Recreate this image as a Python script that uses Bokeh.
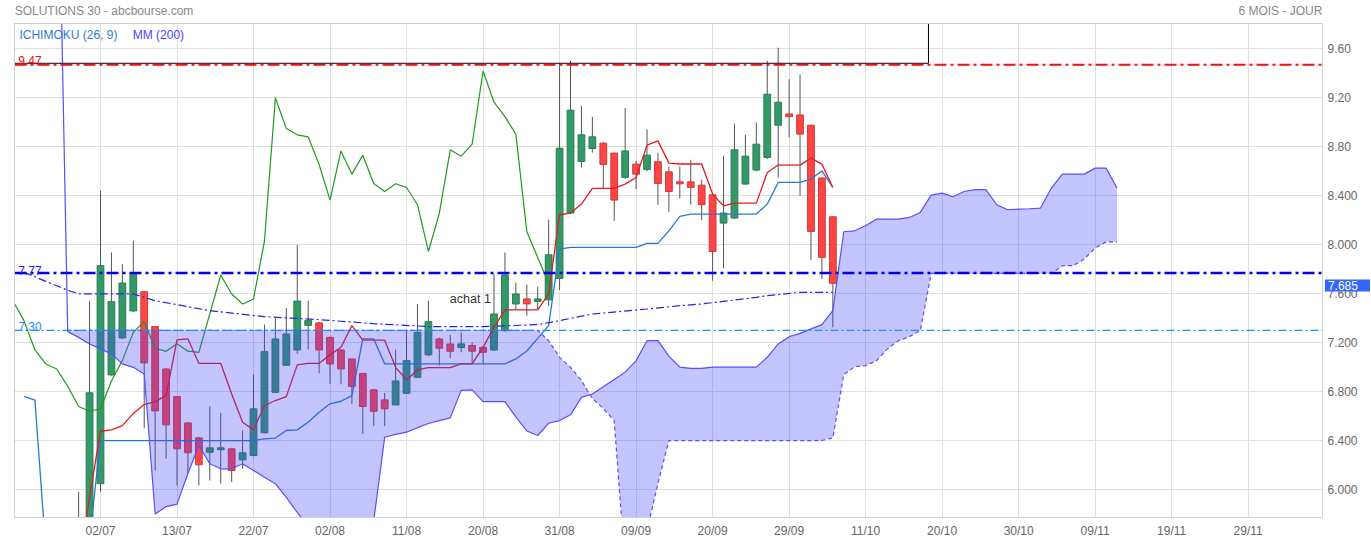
from bokeh.plotting import figure
from bokeh.models import Range1d, FixedTicker, Label, Span, LinearAxis
from bokeh.embed import file_html
from bokeh.resources import INLINE

# ---------------- data (x = trading-day index, 0 = 02/07) ----------------
candle_x = list(range(-2, 68))
opens = [5.72, 5.70, 6.047, 6.936, 7.238, 7.459, 7.616, 7.331, 6.985, 6.759,
         6.544, 6.422, 6.304, 6.325, 6.332, 6.242, 6.278, 6.463, 6.794, 7.015,
         7.14, 7.341, 7.361, 7.243, 7.14, 7.067, 6.949, 6.814, 6.732, 6.691,
         6.786, 6.917, 7.10, 7.23, 7.189, 7.16, 7.176, 7.162, 7.14, 7.298,
         7.516, 7.557, 7.537, 7.55, 7.725, 8.259, 8.68, 8.786, 8.83, 8.749,
         8.55, 8.659, 8.615, 8.678, 8.596, 8.514, 8.514, 8.487, 8.408, 8.177,
         8.218, 8.496, 8.61, 8.713, 8.977, 9.069, 9.061, 8.977, 8.545, 8.229]
highs = [5.98, 7.54, 8.44, 7.937, 7.842, 8.033, 7.62, 7.33, 6.99, 6.76,
         6.55, 6.43, 6.678, 6.626, 6.34, 6.482, 6.939, 7.347, 7.40, 7.483,
         7.998, 7.543, 7.37, 7.25, 7.145, 7.07, 6.95, 6.82, 6.789, 7.143,
         7.298, 7.516, 7.543, 7.24, 7.263, 7.284, 7.20, 7.17, 7.761, 7.937,
         7.692, 7.673, 7.657, 8.204, 9.483, 9.502, 9.135, 9.045, 8.84, 8.75,
         9.116, 8.686, 8.944, 8.753, 8.639, 8.639, 8.694, 8.531, 8.41, 8.727,
         8.99, 8.898, 9.00, 9.502, 9.61, 9.353, 9.393, 8.98, 8.55, 8.23]
lows = [5.09, 5.60, 5.98, 6.93, 7.23, 7.45, 6.50, 6.155, 6.251, 6.033,
        6.128, 6.033, 6.073, 6.047, 6.06, 6.169, 6.27, 6.46, 6.79, 7.01,
        7.11, 7.145, 6.949, 6.863, 6.86, 6.70, 6.454, 6.517, 6.517, 6.69,
        6.78, 6.91, 7.09, 7.012, 7.072, 7.121, 7.034, 7.03, 7.13, 7.29,
        7.467, 7.42, 7.469, 7.50, 7.63, 8.25, 8.631, 8.753, 8.46, 8.196,
        8.54, 8.455, 8.60, 8.327, 8.269, 8.378, 8.327, 8.202, 7.706, 7.807,
        8.21, 8.49, 8.60, 8.70, 8.549, 8.876, 8.40, 7.875, 7.72, 7.325]
closes = [5.68, 6.79, 7.829, 7.535, 7.687, 7.763, 7.034, 6.642, 6.528, 6.332,
          6.30, 6.202, 6.34, 6.34, 6.155, 6.30, 6.659, 7.127, 7.23, 7.271,
          7.54, 7.38, 7.14, 7.026, 6.985, 6.843, 6.678, 6.639, 6.659, 6.887,
          7.053, 7.284, 7.371, 7.154, 7.129, 7.19, 7.13, 7.121, 7.434, 7.753,
          7.598, 7.516, 7.557, 7.918, 8.789, 9.10, 8.898, 8.882, 8.656, 8.365,
          8.767, 8.577, 8.732, 8.50, 8.435, 8.498, 8.468, 8.327, 7.945, 8.259,
          8.776, 8.724, 8.822, 9.23, 9.165, 9.047, 8.904, 8.109, 7.896, 7.685]

tenkan_x = list(range(-2, 68))
tenkan = [5.36, 5.94, 6.476, 6.487, 6.522, 6.62, 6.694, 6.718, 6.767, 7.222,
          7.23, 7.031, 7.031, 7.031, 6.78, 6.549, 6.487, 6.686, 6.727, 6.759,
          7.018, 7.03, 7.031, 7.10, 7.162, 7.339, 7.22, 7.22, 7.22, 6.998,
          6.895, 6.977, 6.995, 6.995, 6.995, 7.026, 7.026, 7.161, 7.325, 7.467,
          7.467, 7.467, 7.467, 7.598, 8.245, 8.259, 8.332, 8.46, 8.46, 8.46,
          8.495, 8.549, 8.814, 8.849, 8.667, 8.66, 8.66, 8.66, 8.414, 8.318,
          8.34, 8.34, 8.34, 8.59, 8.651, 8.651, 8.651, 8.708, 8.659, 8.468]

kijun_x = list(range(-7, 68))
kijun = [6.76, 6.73, 5.5, 5.5, 5.5, 5.5, 5.6,
         6.4, 6.4, 6.4, 6.4, 6.4, 6.4, 6.4, 6.4, 6.4, 6.4, 6.4, 6.4, 6.4, 6.4, 6.4,
         6.414, 6.42, 6.482, 6.487, 6.55, 6.631, 6.7, 6.721, 6.767, 7.23, 7.23,
         7.026, 7.026, 7.026, 7.026, 7.026, 7.026, 7.026, 7.026, 7.026, 7.026, 7.026, 7.026,
         7.067, 7.132, 7.235, 7.339, 7.965,
         7.978, 7.978, 7.978, 7.978, 7.978, 7.978, 7.978, 8.011, 8.011, 8.114, 8.231,
         8.251, 8.251, 8.251, 8.251, 8.251, 8.251, 8.251,
         8.332, 8.509, 8.509, 8.509, 8.536, 8.604, 8.468]

chikou_x = list(range(-8, 42))
chikou = [7.54, 7.38, 7.14, 7.026, 6.985, 6.843, 6.678, 6.639, 6.659, 6.887,
          7.053, 7.284, 7.371, 7.154, 7.129, 7.19, 7.13, 7.121, 7.434, 7.753,
          7.598, 7.516, 7.557, 8.03, 9.20, 8.95, 8.898, 8.882, 8.656, 8.365,
          8.767, 8.577, 8.732, 8.50, 8.435, 8.498, 8.468, 8.327, 7.945, 8.259,
          8.776, 8.724, 8.822, 9.42, 9.165, 9.047, 8.904, 8.109, 7.896, 7.685]

cloud_x = list(range(-4, 94))
span_a = [11.9, 7.29, 7.243, 7.189, 7.149, 7.108, 7.026, 6.998, 6.944, 5.80,
          5.86, 5.88, 6.13, 6.359, 6.21, 6.169, 6.169, 6.21, 6.155, 6.10,
          6.047, 5.935, 5.812, 5.70, 5.50, 5.45, 5.45, 5.45, 5.50, 5.747,
          6.427, 6.45, 6.468, 6.505, 6.539, 6.563, 6.585, 6.81, 6.814, 6.718,
          6.718, 6.718, 6.593, 6.478, 6.441, 6.541, 6.563, 6.61, 6.753, 6.78,
          6.84, 6.898, 6.959, 7.053, 7.216, 7.216, 7.09, 7.0, 6.99, 6.99,
          7.0, 7.0, 7.0, 7.0, 7.0, 7.08, 7.189, 7.249, 7.276, 7.312,
          7.347, 7.461, 8.106, 8.114, 8.155, 8.21, 8.21, 8.21, 8.223, 8.264,
          8.406, 8.422, 8.392, 8.435, 8.451, 8.451, 8.327, 8.286, 8.291, 8.294,
          8.30, 8.463, 8.577, 8.577, 8.577, 8.626, 8.626, 8.463]
span_b = [float("nan"),
          7.30, 7.30, 7.30, 7.30, 7.30, 7.30, 7.30, 7.30, 7.30, 7.30, 7.30,
          7.30, 7.30, 7.30, 7.30, 7.30, 7.30, 7.30, 7.30, 7.30, 7.30, 7.30,
          7.30, 7.30, 7.30, 7.30, 7.30, 7.30, 7.30, 7.30, 7.30, 7.30, 7.30,
          7.30, 7.30, 7.30, 7.30, 7.30, 7.30, 7.30, 7.30, 7.30, 7.30, 7.30,
          7.216, 7.08, 6.998, 6.89, 6.743, 6.661, 6.563, 5.37, 5.37, 5.665, 6.05,
          6.40, 6.40, 6.40, 6.40, 6.40, 6.40, 6.40, 6.40, 6.40, 6.40, 6.40,
          6.40, 6.40, 6.40, 6.40,
          6.422, 6.939, 7.004, 7.012, 7.053, 7.149, 7.216, 7.249, 7.298,
          7.766, 7.766, 7.766, 7.766, 7.766, 7.766, 7.766, 7.766, 7.766, 7.766,
          7.766, 7.766,
          7.829, 7.829, 7.883, 7.973, 8.024, 8.024]

mm_x = [-7, -6, -5, -4, -3, -2, 3, 5, 10, 15, 20, 25, 30, 35, 40, 42, 45, 50, 53, 55, 60, 61, 64, 67]
mm200 = [7.774, 7.739, 7.701, 7.665, 7.628, 7.598, 7.598, 7.543, 7.461, 7.412, 7.388,
         7.355, 7.331, 7.331, 7.347, 7.38, 7.434, 7.475, 7.502, 7.516, 7.57, 7.584,
         7.611, 7.611]

date_ticks = [0, 7, 14, 21, 28, 35, 42, 49, 56, 63, 70, 77, 84, 91, 98, 105]
date_labels = ["02/07", "13/07", "22/07", "02/08", "11/08", "20/08", "31/08", "09/09",
               "20/09", "29/09", "11/10", "20/10", "30/10", "09/11", "19/11", "29/11"]
price_ticks = [6.0, 6.4, 6.8, 7.2, 7.6, 8.0, 8.4, 8.8, 9.2, 9.6]
price_labels = ["6.000", "6.400", "6.800", "7.200", "7.600", "8.000", "8.400", "8.80", "9.20", "9.60"]

header_texts = ["SOLUTIONS 30 - abcbourse.com", "6 MOIS - JOUR"]

level_top = 9.47
level_mid = 7.77
level_low = 7.30
zone_bottom = 9.483
zone_right = 75.75
last_price = closes[-1]

# ---------------- layout ----------------
FONT = "Liberation Sans"
GRID = "#dedede"
FRAME = "#d2d2d2"
x_start, x_right, x_end = -7.868, 111.80, 116.19   # x_right = visible right border
y_start, y_end = 5.771, 9.808
header_pos = [0.32, 107.95]

p = figure(width=1370, height=540, output_backend="svg", toolbar_location=None,
           x_range=Range1d(x_start, x_end), y_range=Range1d(y_start, y_end),
           y_axis_location="right", min_border_left=14, min_border_right=0,
           min_border_top=22, min_border_bottom=23)
p.outline_line_color = None
p.background_fill_color = "white"
p.border_fill_color = "white"

p.xgrid.ticker = FixedTicker(ticks=date_ticks)
p.ygrid.ticker = FixedTicker(ticks=price_ticks)
p.ygrid.cross_bounds = (x_start, x_right)
p.grid.grid_line_color = GRID
p.grid.grid_line_width = 1

def style_axis(ax, color="#666666"):
    ax.major_tick_line_color = None
    ax.minor_tick_line_color = None
    ax.major_tick_out = 0
    ax.major_tick_in = 0
    ax.minor_tick_out = 0
    ax.minor_tick_in = 0
    ax.major_label_text_font = FONT
    ax.major_label_text_font_size = "12px"
    ax.major_label_text_color = color

xa = p.xaxis[0]
style_axis(xa)
xa.ticker = FixedTicker(ticks=date_ticks)
xa.major_label_overrides = dict(zip(date_ticks, date_labels))
xa.axis_line_color = FRAME
xa.bounds = (x_start, x_right)
xa.major_label_standoff = 6

ya = p.yaxis[0]
style_axis(ya)
ya.ticker = FixedTicker(ticks=price_ticks)
ya.major_label_overrides = dict(zip(price_ticks, price_labels))
ya.axis_line_color = None
ya.major_label_standoff = -43     # labels sit just right of the visible border

top_axis = LinearAxis(ticker=FixedTicker(ticks=header_pos),
                      major_label_overrides=dict(zip(header_pos, header_texts)),
                      bounds=(x_start, x_right), axis_line_color=FRAME,
                      major_label_standoff=6)
style_axis(top_axis, "#888888")
p.add_layout(top_axis, "above")

left_axis = LinearAxis(ticker=FixedTicker(ticks=[]), axis_line_color=FRAME,
                       major_label_standoff=0)
style_axis(left_axis)
p.add_layout(left_axis, "left")

p.add_layout(Span(location=x_right, dimension="height", line_color=FRAME, line_width=1))

# candles
up_fill, down_fill = "#339966", "#ff4444"
up_edge, down_edge = "#2b7d55", "#d23a3a"
fills = [up_fill if c >= o else down_fill for o, c in zip(opens, closes)]
edges = [up_edge if c >= o else down_edge for o, c in zip(opens, closes)]
tops = [max(o, c) for o, c in zip(opens, closes)]
bots = [min(o, c) for o, c in zip(opens, closes)]
p.segment(x0=candle_x, y0=lows, x1=candle_x, y1=highs, line_color="#555555", line_width=1)
p.vbar(x=candle_x, width=0.62, top=tops, bottom=bots, fill_color=fills, line_color=edges, line_width=1)

# indicator lines
p.line(chikou_x, chikou, line_color="#229a22", line_width=1.2)
p.line(kijun_x, kijun, line_color="#2a78d6", line_width=1.3)
p.line(tenkan_x, tenkan, line_color="#e01e1e", line_width=1.3)
p.line(mm_x, mm200, line_color="#2424e0", line_width=1.2, line_dash="8 3 2 3")

# cloud (drawn over candles, translucent)
p.varea(x=cloud_x[1:], y1=span_a[1:], y2=span_b[1:], fill_color="#4040ff", fill_alpha=0.31)
p.line(cloud_x, span_a, line_color="#5252ff", line_width=1.2)
p.line(cloud_x[1:], span_b[1:], line_color="#5252ff", line_width=1.2, line_dash="4 3")

# zone rectangle
p.quad(left=[x_start], right=[zone_right], bottom=[zone_bottom], top=[y_end + 1],
       fill_alpha=0, line_color="black", line_width=1)

# horizontal levels (stop at the visible border)
p.segment(x0=[x_start], x1=[x_right], y0=[level_top], y1=[level_top],
          line_color="#ee1111", line_width=2, line_dash="12 4 3 4")
p.segment(x0=[x_start], x1=[x_right], y0=[level_mid], y1=[level_mid],
          line_color="#0000ee", line_width=2.5, line_dash="12 4 3 4")
p.segment(x0=[x_start], x1=[x_right], y0=[level_low], y1=[level_low],
          line_color="#1e8fff", line_width=1.2, line_dash="8 3 2 3")

def lab(x, y, text, color, size="12px", align="left", baseline="alphabetic", **kw):
    l = Label(x=x, y=y, text=text, text_color=color, text_font=FONT,
              text_font_size=size, text_align=align, text_baseline=baseline, **kw)
    p.add_layout(l)
    return l

lab(x_start + 0.35, 9.502, "9.47", "#ee1111")
lab(x_start + 0.35, 7.793, "7.77", "#1a1aee")
lab(x_start + 0.35, 7.331, "7.30", "#1e8fff")
lab(x_start + 0.45, 9.71, "ICHIMOKU (26, 9)", "#2f7bd0")
lab(2.95, 9.71, "MM (200)", "#4646ff")
lab(31.96, 7.559, "achat 1", "#333333", size="12.5px")
lab(x_right + 0.22, last_price - 0.018, "7.685", "white", size="12px", baseline="middle",
    background_fill_color="#3366ff", background_fill_alpha=1.0,
    padding=dict(left=3, right=20, top=2, bottom=1))

open("out.html", "w").write(file_html(p, INLINE))
